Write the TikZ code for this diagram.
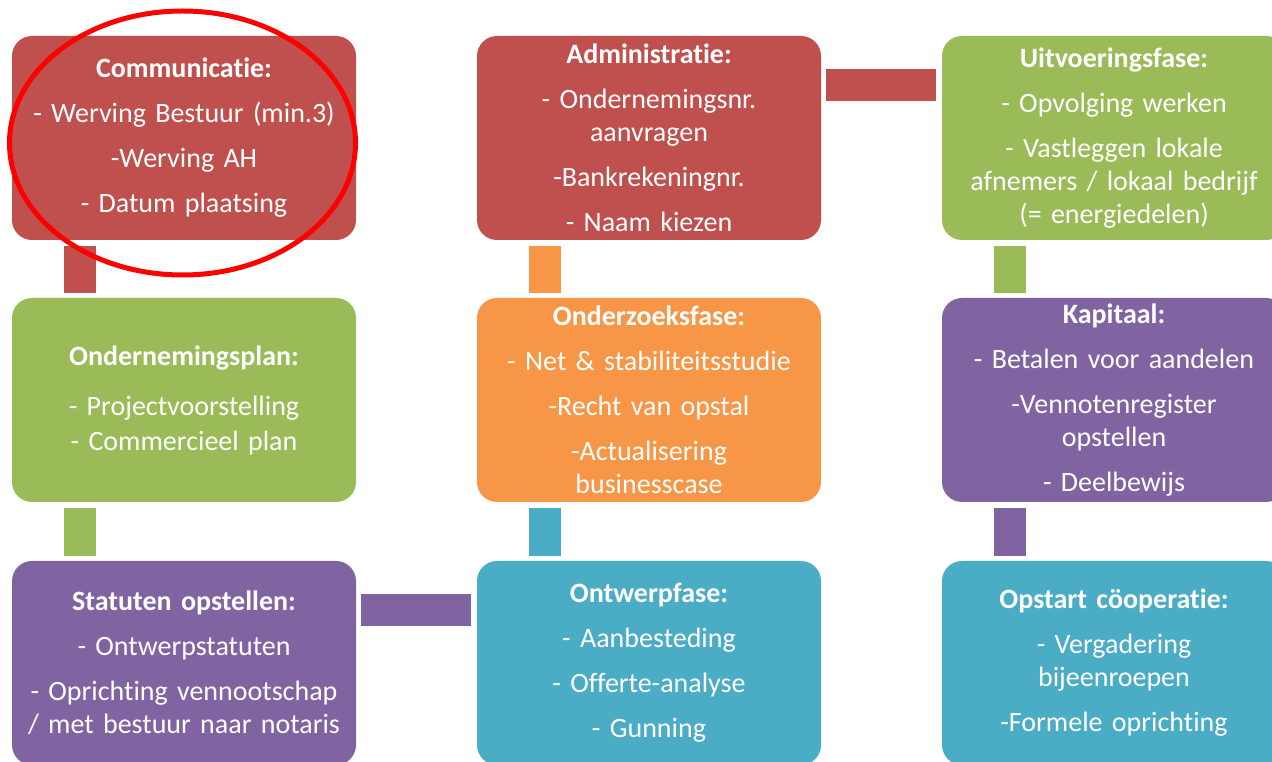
\documentclass[tikz,border=0pt]{standalone}
\usepackage{fontspec}
\setmainfont{Carlito}[RawFeature={-liga;-clig;-calt;-dlig}]
\usetikzlibrary{calc}
\definecolor{kred}{HTML}{C0504D}
\definecolor{kgreen}{HTML}{9BBB59}
\definecolor{kpurple}{HTML}{8064A2}
\definecolor{korange}{HTML}{F79646}
\definecolor{kblue}{HTML}{4BACC6}
\tikzstyle{every node}=[font=\fontsize{28}{33}\selectfont]
\tikzstyle{fase}=[rectangle,rounded corners=20pt,text=white,align=center,text width=340pt,inner sep=2pt,minimum height=204pt]
\tikzstyle{balk}=[line width=32pt,line cap=butt]

\begin{document}
\begin{tikzpicture}[x=1pt,y=1pt]
  \useasboundingbox (0,0) rectangle (1272,761);
  \clip (0,0) rectangle (1272,761);
  % kolom 1
  \node[fase,fill=kred] (comm) at (184,623) {\textbf{Communicatie:}\\[12pt]
    - Werving Bestuur (min.3)\\[12pt] -Werving AH\\[12pt] - Datum plaatsing};
  \node[fase,fill=kgreen] (plan) at (184,361) {\textbf{Ondernemingsplan:}\\[17pt]
    - Projectvoorstelling\\[2pt] - Commercieel plan};
  \node[fase,fill=kpurple] (stat) at (184,98) {\textbf{Statuten opstellen:}\\[12pt]
    - Ontwerpstatuten\\[12pt] - Oprichting vennootschap\\ / met bestuur naar notaris};
  % kolom 2
  \node[fase,fill=kred] (admin) at (649,623) {\textbf{Administratie:}\\[12pt]
    - Ondernemingsnr.\\ aanvragen\\[12pt] -Bankrekeningnr.\\[12pt] - Naam kiezen};
  \node[fase,fill=korange] (onder) at (649,361) {\textbf{Onderzoeksfase:}\\[12pt]
    - Net \& stabiliteitsstudie\\[12pt] -Recht van opstal\\[12pt] -Actualisering\\ businesscase};
  \node[fase,fill=kblue] (ontw) at (649,98) {\textbf{Ontwerpfase:}\\[12pt]
    - Aanbesteding\\[12pt] - Offerte-analyse\\[12pt] - Gunning};
  % kolom 3
  \node[fase,fill=kgreen] (uitv) at (1114,623) {\textbf{Uitvoeringsfase:}\\[12pt]
    - Opvolging werken\\[12pt] - Vastleggen lokale\\ afnemers / lokaal bedrijf\\ (= energiedelen)};
  \node[fase,fill=kpurple] (kap) at (1114,361) {\textbf{Kapitaal:}\\[12pt]
    - Betalen voor aandelen\\[12pt] -Vennotenregister\\ opstellen\\[12pt] - Deelbewijs};
  \node[fase,fill=kblue] (opst) at (1114,98) {\textbf{Opstart cöoperatie:}\\[12pt]
    - Vergadering\\ bijeenroepen\\[12pt] -Formele oprichting};
  % balken
  \foreach \a/\b/\c in {comm/plan/kred,plan/stat/kgreen,admin/onder/korange,
      onder/ontw/kblue,uitv/kap/kgreen,kap/opst/kpurple} {
    \draw[balk,\c] ($(\a.south west)+(68,-6)$) -- ($(\b.north west)+(68,5)$);
  }
  \foreach \a/\b/\c in {admin/uitv/kred,stat/ontw/kpurple} {
    \draw[balk,\c] ($(\a.north east)+(5,-49)$) -- ($(\b.north west)+(-6,-49)$);
  }
  % markering
  \draw[red,line width=5pt] (182.5,618) ellipse [x radius=173,y radius=132];
\end{tikzpicture}
\end{document}
